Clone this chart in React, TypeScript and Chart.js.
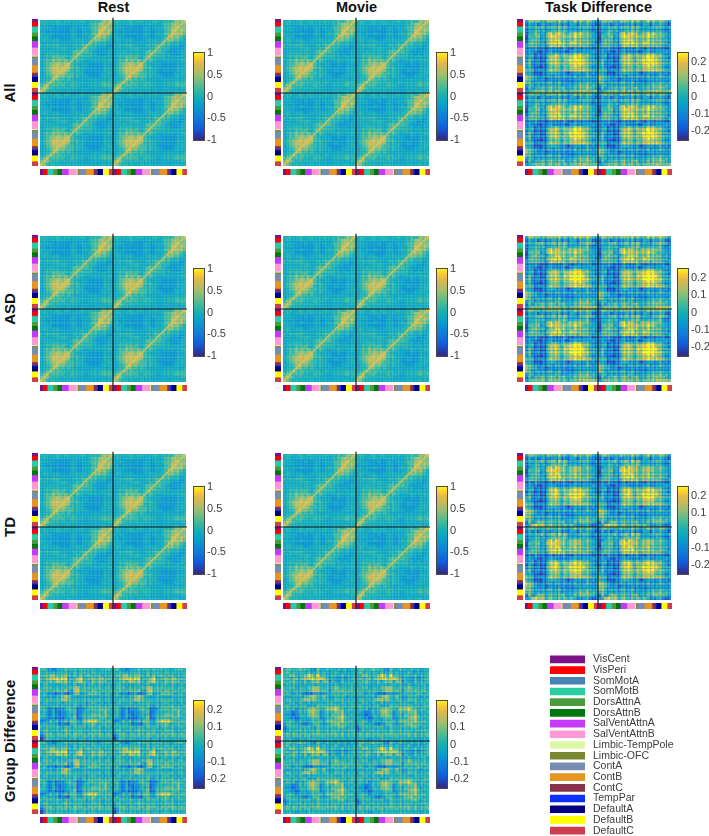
import React, { useEffect, useRef } from "react";
import { Chart, registerables } from "chart.js";

Chart.register(...registerables);
Chart.defaults.font.family = "'Liberation Sans', Arial, sans-serif";

// ---- data ----
const networkNames = ["VisCent","VisPeri","SomMotA","SomMotB","DorsAttnA","DorsAttnB","SalVentAttnA","SalVentAttnB","Limbic-TempPole","Limbic-OFC","ContA","ContB","ContC","TempPar","DefaultA","DefaultB","DefaultC"];
const networkColors = ["#781286","#ff0000","#4682b4","#2acca4","#4a9b3c","#00760e","#c43afa","#ff98d5","#dcf8a4","#7a8732","#778cb0","#e69422","#87324a","#0c30ff","#000082","#ffff00","#cd3e4e"];
const networkSizes = [8,13,2,17,12,14,20,24,3,4,22,23,9,4,15,18,15];
const legendValues = [1,1,1,1,1,1,1,1,1,1,1,1,1,1,1,1,1];

const fullTicks = [-1,-0.5,0,0.5,1];
const diffTicks = [-0.2,-0.1,0,0.1,0.2];

const restGrid = [
"554545545544455455557778","454444544444444456678777","544433333344344456678877","443433333344334446688787",
"443433333344334446688786","544433333344334456787765","454444433344444456776654","444444444444455566655544",
"545555544445456665544433","444444555444556655433334","444544444456666654333344","445555555456665554433344",
"445566665466655554444444","456676767665654444444455","456778878865444433333444","456788888865544433333444",
"456788888754544333333444","456788887665554333334455","445678776664544433334444","455677665654444444444445",
"456765655555444444445555","677666665565554455556666","787655555555444444444455","875554544544444444445444"];
const movieGrid = [
"555445545544455455656778","454444544544444455678777","544433343344344456678877","444433333344334446688787",
"443433433344334546688776","544433333344334456787765","454444433444444556776654","454444544444455566655544",
"545555544445456665544434","444444555444556655443334","444544454456666654333344","445555555456665554434344",
"445565665466655554444444","456676767665654444544455","456677878865444433433444","456778888865544433333444",
"456788888754544334333444","456788887665554333334455","445678776654544433344444","455677665654444444444445",
"456765655555445444445555","677666655565554455556656","787655555555444444444455","875554544544444445445444"];
const taskAllGrid = [
"467676576757575675756754","243424432434243532434432","344556454646464434454535","344665544656565544454434",
"245765478788767787866654","155674478987778787765644","146664467887667676665554","246554367878667876655543",
"345544346766656655554434","333433223332343233232323","343322334332323443343454","445243356785677788866544",
"344132257885578899875543","353231156775478889875444","452232246775567888875544","453221246675477888775534",
"544133246664466767675544","543122344543332334334343","754333343343344343334434","865434323333334334343444",
"764455455445344334444545","455354444444345445656565","253456556545645454656654","446778767676576767786778"];
const taskAsdGrid = [
"477676676767576676767765","243424332534243532434522","344567454746574533556653","345666544656675545556434",
"245665478787668777766544","156674478887778787754544","146766446787767676665454","246554366878567866554443",
"345555346766656654554434","333432223322343223232423","343322334332423444343454","445243356875678899866544",
"344132257885589999975543","353231156775588999975444","452232246775578999876544","453221246775478888875534",
"544133246664467777675644","543122344533332334334343","754333343343344343334434","865534323333334334343444",
"864455455445344334444545","455354444454345445656565","253557556645655455665654","457778767776676767787888"];
const taskTdGrid = [
"467666575657565675656754","242424432434233532434432","344557455747574434454435","344665545766675544454434",
"235665478797767777656654","155674488987767777655544","145664468897667776655554","235554367878567666545543",
"345544346766656655554434","232433223232333233232323","343322334432334443343454","445243357885677888766544",
"243132257895578888875543","343231156885478888875444","452232246775577888755544","543221246775477878755534",
"644133246664466766665544","643122344543332334334343","865333343343344343334434","876434323333334334343444",
"875455455445344334444545","665354444444345445656565","263477555545645454665654","448989767656576743344323"];
const groupRestGrid = [
"553323445454454544435554","545454555445455545545545","555675566545464654554545","546788788454784556567555",
"545657767545785546566645","455454455445445455455454","455545454556745554554554","545455556436845545545545",
"453332342235734565654554","554545578754445544445554","545555577654545554554554","455455545555545455545454",
"544455454545435454554545","553242334654223555556654","453252233555224544555745","553253233545235556665754",
"543242223456225555556645","223545345465436787855555","454454232255435556545645","545555545545555455454554",
"455455456554554545554545","345544545545554454555454","135554555455545545455555","036555554555455455545545"];
const groupMovieGrid = [
"455456554325435443535344","564554545445454445435445","546654568758554454454545","554564677877875443343445",
"545654463666466353354545","454554454544545445445554","545544545676545456545454","544454544676555355555554",
"554354322243334454546545","544555466885575445555454","455454677674455445554545","545545545454545554455555",
"554454553445555555545455","454534456775547778654554","543235456875346556674545","433134546775345465675454",
"543323544665335556786545","445434443554536665675554","455454323465434566756545","245554555445545554665454",
"235455454545545454545555","454554554555545555454545","454555455454554545454545","545444545554545554545454"];

// thin line offsets read along the rows and columns of a quadrant (2 = none)
const restRowLines = "223122312412232141322314223122142312231223212122";
const restColLines = "212232122314212231221322412231221321412312421322";
const taskRowLines = "312132021222131424031203214142213412141203123121";
const taskColLines = "212322131202301324123142142102213412413234121202";
const groupRowLines = "231223041321232413202312141322132124123123143212";
const groupColLines = "213241231204213124032134122314023142312412031322";

const restLevels = [0.1, 0.2, 0.28, 0.36, 0.44, 0.5, 0.58, 0.68, 0.78, 0.85];
const diffLevels = [0.04, 0.13, 0.22, 0.33, 0.44, 0.53, 0.62, 0.72, 0.82, 0.92];

const columnTitles = ["Rest", "Movie", "Task Difference"];
const rowTitles = ["All", "ASD", "TD", "Group Difference"];

// ---- layout ----
const colX = [40, 283, 525];
const rowY = [19, 235, 453, 667];
const heatSize = 147;
const cbarX = [194, 437, 678];
const cbarOffset = 34;
const cbarH = 87;

const restStyle = { levels: restLevels, rows: restRowLines, cols: restColLines, gain: 0.035, selfLine: true };
const taskStyle = { levels: diffLevels, rows: taskRowLines, cols: taskColLines, gain: 0.09, selfLine: false };
const groupStyle = { levels: diffLevels, rows: groupRowLines, cols: groupColLines, gain: 0.06, selfLine: false };

const panels = [
  { c: 0, r: 0, grid: restGrid, lim: 1, ticks: fullTicks, style: restStyle },
  { c: 1, r: 0, grid: movieGrid, lim: 1, ticks: fullTicks, style: restStyle },
  { c: 2, r: 0, grid: taskAllGrid, lim: 0.25, ticks: diffTicks, style: taskStyle },
  { c: 0, r: 1, grid: restGrid, lim: 1, ticks: fullTicks, style: restStyle },
  { c: 1, r: 1, grid: movieGrid, lim: 1, ticks: fullTicks, style: restStyle },
  { c: 2, r: 1, grid: taskAsdGrid, lim: 0.25, ticks: diffTicks, style: taskStyle },
  { c: 0, r: 2, grid: restGrid, lim: 1, ticks: fullTicks, style: restStyle },
  { c: 1, r: 2, grid: movieGrid, lim: 1, ticks: fullTicks, style: restStyle },
  { c: 2, r: 2, grid: taskTdGrid, lim: 0.25, ticks: diffTicks, style: taskStyle },
  { c: 0, r: 3, grid: groupRestGrid, lim: 0.25, ticks: diffTicks, style: groupStyle },
  { c: 1, r: 3, grid: groupMovieGrid, lim: 0.25, ticks: diffTicks, style: groupStyle },
];

// ---- colour map (parula) ----
const parulaStops: [number, number[]][] = [
  [0, [53, 42, 135]], [0.125, [15, 92, 221]], [0.25, [18, 125, 216]], [0.375, [7, 156, 207]],
  [0.5, [21, 177, 180]], [0.625, [89, 189, 140]], [0.75, [165, 190, 107]], [0.875, [225, 185, 74]],
  [0.9375, [252, 206, 46]], [1, [249, 251, 14]],
];
function parula(f: number): string {
  const t = Math.max(0, Math.min(1, f));
  for (let i = 1; i < parulaStops.length; i++) {
    const [b, cb] = parulaStops[i];
    if (t <= b) {
      const [a, ca] = parulaStops[i - 1];
      const u = (t - a) / (b - a);
      return `rgb(${ca.map((v, k) => Math.round(v + (cb[k] - v) * u)).join(",")})`;
    }
  }
  return "rgb(249,251,14)";
}

const N = 24;
const S = 2;
const frame = {
  id: "frame",
  afterDraw(chart: any) {
    const { ctx, chartArea: a } = chart;
    ctx.save();
    ctx.strokeStyle = "#4a4a4a";
    ctx.lineWidth = 1;
    ctx.strokeRect(a.left - 0.5, a.top - 0.5, a.right - a.left + 1, a.bottom - a.top + 1);
    ctx.restore();
  },
};

const baseOptions = {
  animation: false,
  responsive: false,
  events: [],
  plugins: { legend: { display: false }, title: { display: false }, tooltip: { enabled: false } },
};

function heatConfig(grid: string[], style: any) {
  const M = N * S;
  const pts: { x: number; y: number }[] = [];
  const colors: string[] = [];
  for (let qy = 0; qy < 2; qy++)
    for (let qx = 0; qx < 2; qx++)
      for (let r = 0; r < M; r++)
        for (let c = 0; c < M; c++) {
          const d = Number(grid[Math.floor(r / S)].charAt(Math.floor(c / S)) || "4");
          let f = style.levels[d] + (Number(style.rows[r]) + Number(style.cols[c]) - 4) * style.gain;
          if (style.selfLine && r + c === M - 1) f = 0.9;
          pts.push({ x: (qx * M + c + 0.5) / S, y: (qy * M + r + 0.5) / S });
          colors.push(parula(f));
        }
  const cell = heatSize / (2 * M);
  return {
    type: "scatter",
    data: {
      datasets: [
        { data: [{ x: N, y: -0.7 }, { x: N, y: 2 * N + 3 }], showLine: true, borderColor: "#14181c", borderWidth: 1.2, pointRadius: 0, clip: false },
        { data: [{ x: -2.7, y: N }, { x: 2 * N + 0.3, y: N }], showLine: true, borderColor: "#14181c", borderWidth: 1.2, pointRadius: 0, clip: false },
        { data: pts, backgroundColor: colors, borderWidth: 0, pointStyle: "rect", pointRadius: cell * Math.SQRT1_2 + 0.2 },
      ],
    },
    options: {
      ...baseOptions,
      layout: { padding: { left: 10, right: 3, top: 3, bottom: 12 } },
      scales: {
        x: { type: "linear", display: false, min: 0, max: 2 * N },
        y: { type: "linear", display: false, min: 0, max: 2 * N, reverse: true },
      },
    },
  };
}

function stripConfig(horizontal: boolean) {
  const sizes = [...networkSizes, ...networkSizes];
  const cols = [...networkColors, ...networkColors];
  const total = sizes.reduce((a, b) => a + b, 0);
  const valueAxis = { display: false, stacked: true, min: 0, max: total, reverse: !horizontal };
  const catAxis = { display: false, stacked: true };
  return {
    type: "bar",
    data: {
      labels: ["networks"],
      datasets: sizes.map((s, i) => ({ data: [s], backgroundColor: cols[i], borderWidth: 0, barPercentage: 1, categoryPercentage: 1 })),
    },
    options: {
      ...baseOptions,
      indexAxis: horizontal ? "y" : "x",
      scales: horizontal ? { x: valueAxis, y: catAxis } : { x: catAxis, y: valueAxis },
    },
  };
}

function colorbarConfig(lim: number, ticks: number[]) {
  const levels = 64;
  const datasets = [];
  for (let i = 0; i < levels; i++) {
    const lo = -lim + (2 * lim * i) / levels;
    const hi = -lim + (2 * lim * (i + 1.3)) / levels;
    datasets.push({ data: [[lo, Math.min(hi, lim)]], backgroundColor: parula((i + 0.5) / levels), borderWidth: 0, grouped: false, barPercentage: 1, categoryPercentage: 1 });
  }
  return {
    type: "bar",
    data: { labels: ["scale"], datasets },
    options: {
      ...baseOptions,
      layout: { padding: { top: 7, bottom: 7, left: 1 } },
      scales: {
        x: { display: false },
        y: {
          position: "right",
          min: -lim,
          max: lim,
          grid: { display: false, drawTicks: false },
          border: { display: false },
          afterFit: (s: any) => { s.width = 30; s.paddingTop = 0; s.paddingBottom = 0; },
          afterBuildTicks: (s: any) => { s.ticks = ticks.map((v) => ({ value: v })); },
          ticks: {
            autoSkip: false,
            padding: 3,
            color: "#404040",
            font: { size: 11 },
            callback: (v: number) => String(v),
          },
        },
      },
    },
    plugins: [frame],
  };
}

function legendConfig() {
  return {
    type: "bar",
    data: {
      labels: networkNames,
      datasets: [{ data: legendValues, backgroundColor: networkColors, borderWidth: 0, barThickness: 7 }],
    },
    options: {
      ...baseOptions,
      indexAxis: "y",
      scales: {
        x: { display: false, min: 0, max: 1 },
        y: {
          position: "right",
          grid: { display: false, drawTicks: false },
          border: { display: false },
          afterFit: (s: any) => { s.width = 121; s.paddingTop = 0; s.paddingBottom = 0; },
          ticks: { autoSkip: false, padding: 8, color: "#3c3c3c", font: { size: 10.5 } },
        },
      },
    },
  };
}

function ChartCanvas({ make, left, top, w, h }: { make: () => any; left: number; top: number; w: number; h: number }) {
  const ref = useRef<HTMLCanvasElement | null>(null);
  useEffect(() => {
    const chart = new Chart(ref.current as HTMLCanvasElement, make());
    return () => chart.destroy();
  }, []);
  return <canvas ref={ref} width={w} height={h} style={{ position: "absolute", left, top, width: w, height: h, display: "block" }} />;
}

const titleStyle: React.CSSProperties = {
  position: "absolute",
  fontFamily: "'Liberation Sans', Arial, sans-serif",
  fontWeight: 700,
  color: "#111",
  whiteSpace: "nowrap",
  lineHeight: 1,
  transform: "translate(-50%, -50%)",
};

export default function App() {
  return (
    <div style={{ position: "absolute", left: 0, top: 0, width: 709, height: 836, overflow: "hidden", background: "#fff" }}>
      {columnTitles.map((t, i) => (
        <div key={t} style={{ ...titleStyle, fontSize: 14.5, left: colX[i] + heatSize / 2, top: 7 }}>{t}</div>
      ))}
      {rowTitles.map((t, i) => (
        <div key={t} style={{ ...titleStyle, fontSize: 15, left: 9, top: rowY[i] + heatSize / 2, transform: "translate(-50%, -50%) rotate(-90deg)" }}>{t}</div>
      ))}
      {panels.map((p, i) => (
        <React.Fragment key={i}>
          <ChartCanvas make={() => stripConfig(false)} left={colX[p.c] - 8} top={rowY[p.r]} w={6} h={heatSize} />
          <ChartCanvas make={() => stripConfig(true)} left={colX[p.c]} top={rowY[p.r] + heatSize + 3} w={heatSize} h={6} />
          <ChartCanvas make={() => heatConfig(p.grid, p.style)} left={colX[p.c] - 10} top={rowY[p.r] - 3} w={heatSize + 13} h={heatSize + 15} />
          <ChartCanvas make={() => colorbarConfig(p.lim, p.ticks)} left={cbarX[p.c] - 1} top={rowY[p.r] + cbarOffset - 7} w={41} h={cbarH + 14} />
        </React.Fragment>
      ))}
      <ChartCanvas make={legendConfig} left={550} top={654} w={156} h={182} />
    </div>
  );
}
